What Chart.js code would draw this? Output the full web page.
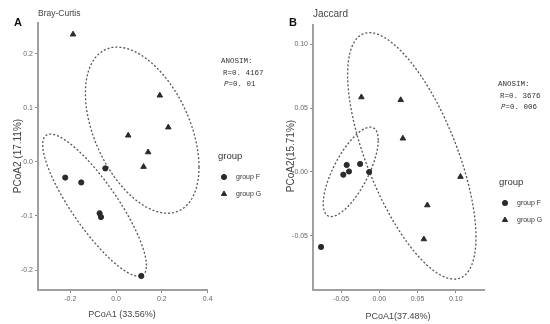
<!DOCTYPE html>
<html>
<head>
<meta charset="utf-8">
<script src="https://cdn.jsdelivr.net/npm/chart.js@4.4.1/dist/chart.umd.min.js"></script>
<style>
  body { margin: 0; background: #fff; }
  #wrap { position: relative; width: 550px; height: 324px; }
  canvas { position: absolute; top: 0; }
</style>
</head>
<body>
<div id="wrap">
  <canvas id="chartA" width="275" height="324" style="left:0"></canvas>
  <canvas id="chartB" width="275" height="324" style="left:275px"></canvas>
</div>
<script>
// Bray-Curtis (panel A)
const bcFx = [-0.222, -0.152, -0.047, -0.072, -0.066, 0.110];
const bcFy = [-0.029, -0.038, -0.012, -0.095, -0.102, -0.211];
const bcGx = [-0.188, 0.191, 0.228, 0.053, 0.140, 0.120];
const bcGy = [0.236, 0.123, 0.064, 0.049, 0.018, -0.009];
const bcXTicks = [-0.2, 0.0, 0.2, 0.4];
const bcYTicks = [-0.2, -0.1, 0.0, 0.1, 0.2];
// ellipse: centre x, centre y, half width, half height, correlation
const bcEllF = [-0.094, -0.080, 0.2265, 0.1315, -0.85];
const bcEllG = [0.114, 0.0587, 0.248, 0.1537, -0.445];

// Jaccard (panel B)
const jcFx = [-0.0427, -0.0471, -0.0397, -0.0251, -0.0133, -0.0763];
const jcFy = [0.0054, -0.0022, 0.0003, 0.0062, -0.0001, -0.0588];
const jcGx = [-0.0235, 0.028, 0.0308, 0.1062, 0.0628, 0.0583];
const jcGy = [0.0585, 0.0563, 0.0262, -0.0038, -0.0261, -0.0527];
const jcXTicks = [-0.05, 0.00, 0.05, 0.10];
const jcYTicks = [-0.05, 0.00, 0.05, 0.10];
const jcEllF = [-0.0374, 0.0, 0.036, 0.035, 0.71];
const jcEllG = [0.0425, 0.0125, 0.084, 0.0965, -0.66];

const pts = (xs, ys) => xs.map((v, i) => ({x: v, y: ys[i]}));

const panelPlugin = {
  id: 'panel',
  beforeDatasetsDraw(chart, args, opts) {
    const {ctx, scales: {x, y}} = chart;
    ctx.save();
    ctx.strokeStyle = '#555';
    ctx.lineWidth = 1.3;
    ctx.setLineDash([2, 2]);
    opts.ellipses.forEach(e => {
      const [cx, cy, rx, ry, rho] = e;
      ctx.beginPath();
      for (let i = 0; i <= 160; i++) {
        const t = i / 160 * Math.PI * 2;
        const vx = cx + rx * Math.cos(t);
        const vy = cy + ry * (rho * Math.cos(t) + Math.sqrt(1 - rho * rho) * Math.sin(t));
        const px = x.getPixelForValue(vx), py = y.getPixelForValue(vy);
        if (i) ctx.lineTo(px, py); else ctx.moveTo(px, py);
      }
      ctx.closePath();
      ctx.stroke();
    });
    ctx.restore();
  },
  afterDraw(chart, args, o) {
    const ctx = chart.ctx;
    ctx.save();
    ctx.textBaseline = 'alphabetic';
    // panel letter + title
    ctx.fillStyle = '#111';
    ctx.font = 'bold 11px "Liberation Sans", Arial';
    ctx.fillText(o.letter, 14, 26);
    ctx.fillStyle = '#444';
    ctx.font = o.titleSize + 'px "Liberation Sans", Arial';
    ctx.fillText(o.title, 38, o.titleY);
    // ANOSIM
    ctx.fillStyle = '#333';
    ctx.font = '7.5px "Liberation Mono", monospace';
    ctx.fillText('ANOSIM:', o.anoX, o.anoY);
    ctx.fillText(o.r, o.anoX + 2, o.anoY + 11.5);
    ctx.font = 'italic 7.5px "Liberation Mono", monospace';
    ctx.fillText('P', o.anoX + 3, o.anoY + 23);
    ctx.font = '7.5px "Liberation Mono", monospace';
    ctx.fillText(o.p, o.anoX + 3 + 4.5, o.anoY + 23);
    // legend
    ctx.fillStyle = '#333';
    ctx.font = '9.5px "Liberation Sans", Arial';
    ctx.fillText('group', o.legX - 5, o.legY);
    ctx.font = '7px "Liberation Sans", Arial';
    ctx.textBaseline = 'middle';
    ctx.fillStyle = '#2b2b2b';
    ctx.strokeStyle = '#2b2b2b';
    Chart.helpers.drawPoint(ctx, {pointStyle: 'circle', radius: 2.6, borderWidth: 1}, o.legX + 1, o.legY + 18);
    Chart.helpers.drawPoint(ctx, {pointStyle: 'triangle', radius: 3, borderWidth: 1}, o.legX + 1, o.legY + 35);
    ctx.fillStyle = '#333';
    ctx.fillText('group F', o.legX + 13, o.legY + 18);
    ctx.fillText('group ' + o.gName, o.legX + 13, o.legY + 35);
    // axis titles
    ctx.fillStyle = '#444';
    ctx.textAlign = 'center';
    ctx.font = '9px "Liberation Sans", Arial';
    ctx.fillText(o.xTitle, o.xTitleX, o.xTitleY);
    ctx.translate(o.yTitleX, 156);
    ctx.rotate(-Math.PI / 2);
    ctx.font = '10px "Liberation Sans", Arial';
    ctx.fillText(o.yTitle, 0, 0);
    ctx.restore();
  }
};

function makeChart(id, d) {
  const axis = (min, max, ticks, digits, fitKey, fitVal) => ({
    type: 'linear',
    min: min,
    max: max,
    afterBuildTicks: s => { s.ticks = ticks.map(v => ({value: v})); },
    afterFit: s => { s[fitKey] = fitVal; },
    grid: {drawOnChartArea: false, drawTicks: true, tickLength: 3, color: '#888'},
    border: {display: true, color: '#a0a0a0', width: 2},
    ticks: {
      color: '#666',
      padding: 2,
      font: {size: 7, family: '"Liberation Sans", Arial'},
      callback: v => v.toFixed(digits)
    }
  });
  return new Chart(document.getElementById(id), {
    type: 'scatter',
    data: {
      datasets: [
        {label: 'group F', data: d.f, pointStyle: 'circle', pointRadius: 2.6,
         backgroundColor: '#2b2b2b', borderColor: '#2b2b2b', borderWidth: 1},
        {label: 'group G', data: d.g, pointStyle: 'triangle', pointRadius: 3.2,
         backgroundColor: '#2b2b2b', borderColor: '#2b2b2b', borderWidth: 1}
      ]
    },
    options: {
      responsive: false,
      animation: false,
      events: [],
      layout: {padding: {left: 0, top: d.top, right: d.right, bottom: 0}},
      scales: {
        x: axis(d.xMin, d.xMax, d.xTicks, d.digits, 'height', 34),
        y: axis(d.yMin, d.yMax, d.yTicks, d.digits, 'width', 38)
      },
      plugins: {
        legend: {display: false},
        tooltip: {enabled: false},
        panel: d.panel
      }
    },
    plugins: [panelPlugin]
  });
}

makeChart('chartA', {
  f: pts(bcFx, bcFy), g: pts(bcGx, bcGy),
  xMin: -0.341, xMax: 0.397, yMin: -0.237, yMax: 0.257,
  xTicks: bcXTicks, yTicks: bcYTicks, digits: 1, top: 23, right: 68,
  panel: {
    ellipses: [bcEllF, bcEllG], letter: 'A', title: 'Bray-Curtis', titleSize: 8.5, titleY: 16,
    anoX: 221, anoY: 63, r: 'R=0. 4167', p: '=0. 01',
    legX: 223, legY: 159, gName: 'G',
    xTitle: 'PCoA1 (33.56%)', xTitleX: 122, xTitleY: 315,
    yTitle: 'PCoA2 (17.11%)', yTitleX: 18
  }
});

makeChart('chartB', {
  f: pts(jcFx, jcFy), g: pts(jcGx, jcGy),
  xMin: -0.0868, xMax: 0.137, yMin: -0.0925, yMax: 0.115,
  xTicks: jcXTicks, yTicks: jcYTicks, digits: 2, top: 25, right: 66,
  panel: {
    ellipses: [jcEllF, jcEllG], letter: 'B', title: 'Jaccard', titleSize: 10, titleY: 17,
    anoX: 223, anoY: 86, r: 'R=0. 3676', p: '=0. 006',
    legX: 229, legY: 185, gName: 'G',
    xTitle: 'PCoA1(37.48%)', xTitleX: 123, xTitleY: 317,
    yTitle: 'PCoA2(15.71%)', yTitleX: 16
  }
});
</script>
</body>
</html>
